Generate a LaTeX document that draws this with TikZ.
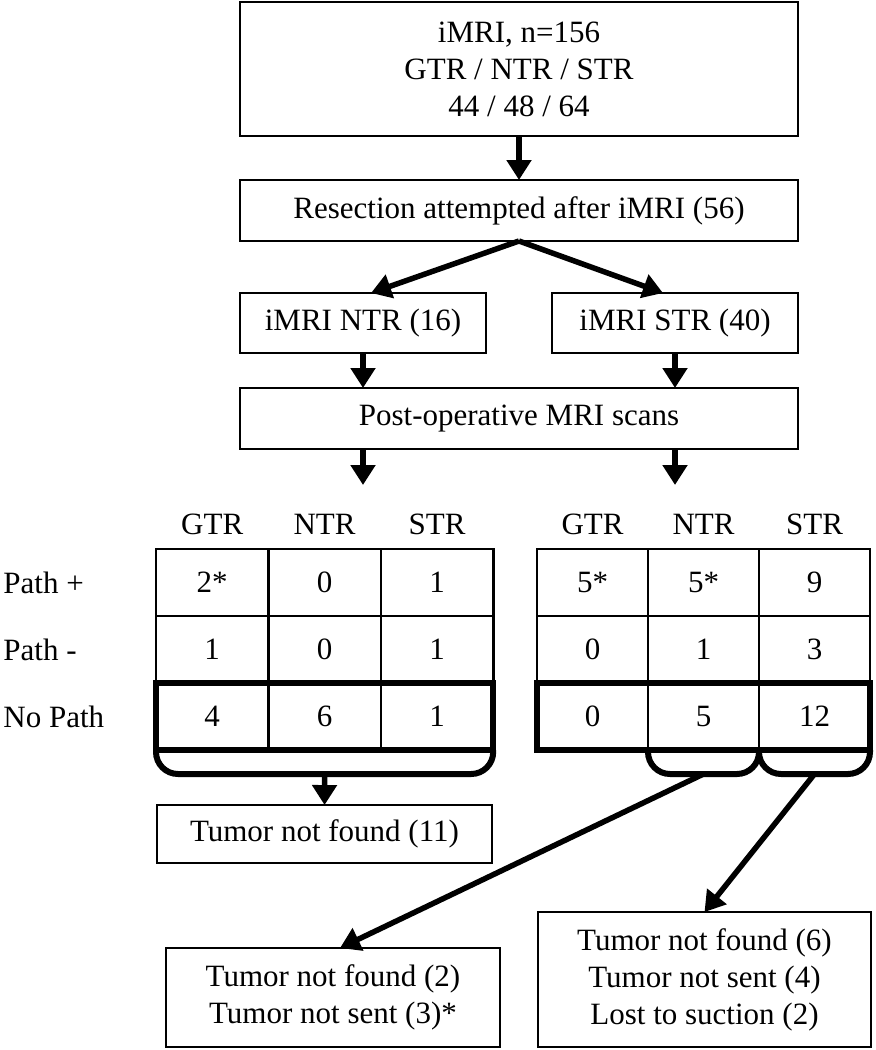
\documentclass[tikz,border=0pt]{standalone}
\usepackage{fontspec}
\setmainfont{Liberation Serif}
\usetikzlibrary{arrows.meta,positioning}
\tikzset{>={Triangle[length=10pt,width=12pt]}}
\tikzset{
  box/.style={draw, line width=1.3pt, align=center, inner sep=0pt, outer sep=0pt},
  cell/.style={draw, line width=1.3pt, minimum height=33.5pt, inner sep=0pt, outer sep=0pt},
  lcell/.style={cell, minimum width=56.2pt},
  rcell/.style={cell, minimum width=55.5pt},
  rowlabel/.style={anchor=west, inner sep=0pt},
  heavy/.style={line width=3pt},
  flow/.style={->, line width=2.75pt},
}

\begin{document}
\begin{tikzpicture}[x=0.5pt, y=-0.5pt, every node/.style={font=\fontsize{15.5}{18.5}\selectfont}]
            \useasboundingbox (0,0) rectangle (876,1050);
            % upper flow
            \node[box, minimum width=279pt, minimum height=67pt] (imri) at (519,69) {iMRI, n=156\\GTR / NTR / STR\\44 / 48 / 64};
            \node[box, minimum width=279pt, minimum height=30.5pt, below=22pt of imri] (res) {Resection attempted after iMRI (56)};
            \node[box, minimum width=123pt, minimum height=30pt] (ntr) at (363,323) {iMRI NTR (16)};
            \node[box, minimum width=123pt, minimum height=30pt] (str) at (675,323) {iMRI STR (40)};
            \node[box, minimum width=279pt, minimum height=30.5pt] (post) at (519,418.5) {Post-operative MRI scans};
            \coordinate (lin) at (363,485);
            \coordinate (rin) at (675,485);
            \draw[flow] (imri) -- (res);
            \draw[flow] (res.south) -- ([xshift=4pt]ntr.north);
            \draw[flow] (res.south) -- ([xshift=-6pt]str.north);
            \draw[flow] (ntr) -- (ntr |- post.north);
            \draw[flow] (str) -- (str |- post.north);
            \draw[flow] (post.south -| lin) -- (lin);
            \draw[flow] (post.south -| rin) -- (rin);
            % left table
            \node[lcell] (l11) at (212.2,582.5) {2*};
            \node[lcell, right=0pt of l11] (l12) {0};
            \node[lcell, right=0pt of l12] (l13) {1};
            \node[lcell, below=0pt of l11] (l21) {1};
            \node[lcell, right=0pt of l21] (l22) {0};
            \node[lcell, right=0pt of l22] (l23) {1};
            \node[lcell, below=0pt of l21] (l31) {4};
            \node[lcell, right=0pt of l31] (l32) {6};
            \node[lcell, right=0pt of l32] (l33) {1};
            \node (lh1) at ([yshift=12.5pt]l11.north) {GTR};
            \node (lh2) at ([yshift=12.5pt]l12.north) {NTR};
            \node (lh3) at ([yshift=12.5pt]l13.north) {STR};
            \node[rowlabel] (p1) at (3,0 |- l11) {Path +};
            \node[rowlabel] (p2) at (3,0 |- l21) {Path -};
            \node[rowlabel] (p3) at (3,0 |- l31) {No Path};
            % right table
            \node[rcell] (r11) at (592.5,582.5) {5*};
            \node[rcell, right=0pt of r11] (r12) {5*};
            \node[rcell, right=0pt of r12] (r13) {9};
            \node[rcell, below=0pt of r11] (r21) {0};
            \node[rcell, right=0pt of r21] (r22) {1};
            \node[rcell, right=0pt of r22] (r23) {3};
            \node[rcell, below=0pt of r21] (r31) {0};
            \node[rcell, right=0pt of r31] (r32) {5};
            \node[rcell, right=0pt of r32] (r33) {12};
            \node (rh1) at ([yshift=12.5pt]r11.north) {GTR};
            \node (rh2) at ([yshift=12.5pt]r12.north) {NTR};
            \node (rh3) at ([yshift=12.5pt]r13.north) {STR};
            % no path rows and braces
            \draw[heavy] (l31.north west) rectangle (l33.south east);
            \draw[heavy] (r31.north west) rectangle (r33.south east);
            \draw[heavy, rounded corners=11pt] (l31.south west) -- ++(0,24) -| coordinate[pos=0.25] (lfoot) (l33.south east);
            \draw[heavy, rounded corners=11pt] (r32.south west) -- ++(0,24) -| coordinate[pos=0.25] (nfoot) (r32.south east);
            \draw[heavy, rounded corners=11pt] (r33.south west) -- ++(0,24) -| coordinate[pos=0.25] (sfoot) (r33.south east);
            % outcomes
            \node[box, minimum width=167.5pt, minimum height=29pt] (tnf) at (324.5,834) {Tumor not found (11)};
            \node[box, minimum width=167pt, minimum height=49.5pt] (ntrout) at (333,997.5) {Tumor not found (2)\\Tumor not sent (3)*};
            \node[box, minimum width=166.5pt, minimum height=67.5pt] (strout) at (704.5,979.5) {Tumor not found (6)\\Tumor not sent (4)\\Lost to suction (2)};
            \draw[flow] (lfoot) -- (tnf);
            \draw[flow] (nfoot) -- ([xshift=3.5pt]ntrout.north);
            \draw[flow] (sfoot) -- (strout.north);
\end{tikzpicture}
\end{document}
